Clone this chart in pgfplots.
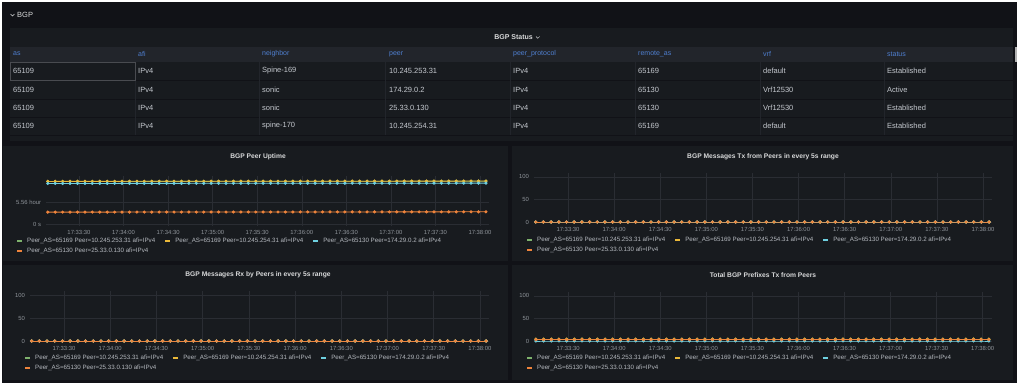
\documentclass[border=0pt]{standalone}
\usepackage{pgfplots}
\pgfplotsset{compat=1.18}
\usepackage{pgfplotstable}
\usepackage{fontspec}
\setmainfont{Liberation Sans}
\definecolor{dashbg}{HTML}{111217}
\definecolor{panelbg}{HTML}{181B1F}
\definecolor{headbg}{HTML}{22252B}
\definecolor{gridc}{HTML}{2A2D33}
\definecolor{titlec}{HTML}{D8D9DA}
\definecolor{tickc}{HTML}{8E9399}
\definecolor{legc}{HTML}{B4B8BE}
\definecolor{headc}{HTML}{4F7FD0}
\definecolor{cellc}{HTML}{C4C8CE}
\definecolor{sgreen}{HTML}{7EB26D}
\definecolor{syellow}{HTML}{EAB839}
\definecolor{sblue}{HTML}{6ED0E0}
\definecolor{sorange}{HTML}{EF843C}

% BGP Peer Uptime (seconds)
\pgfplotstableread{
t g y b o
9 38700 38760 36900 10800
14 38705 38765 36905 10805
19 38710 38770 36910 10810
24 38715 38775 36915 10815
29 38720 38780 36920 10820
34 38725 38785 36925 10825
39 38730 38790 36930 10830
44 38735 38795 36935 10835
49 38740 38800 36940 10840
54 38745 38805 36945 10845
59 38750 38810 36950 10850
64 38755 38815 36955 10855
69 38760 38820 36960 10860
74 38765 38825 36965 10865
79 38770 38830 36970 10870
84 38775 38835 36975 10875
89 38780 38840 36980 10880
94 38785 38845 36985 10885
99 38790 38850 36990 10890
104 38795 38855 36995 10895
109 38800 38860 37000 10900
114 38805 38865 37005 10905
119 38810 38870 37010 10910
124 38815 38875 37015 10915
129 38820 38880 37020 10920
134 38825 38885 37025 10925
139 38830 38890 37030 10930
144 38835 38895 37035 10935
149 38840 38900 37040 10940
154 38845 38905 37045 10945
159 38850 38910 37050 10950
164 38855 38915 37055 10955
169 38860 38920 37060 10960
174 38865 38925 37065 10965
179 38870 38930 37070 10970
184 38875 38935 37075 10975
189 38880 38940 37080 10980
194 38885 38945 37085 10985
199 38890 38950 37090 10990
204 38895 38955 37095 10995
209 38900 38960 37100 11000
214 38905 38965 37105 11005
219 38910 38970 37110 11010
224 38915 38975 37115 11015
229 38920 38980 37120 11020
234 38925 38985 37125 11025
239 38930 38990 37130 11030
244 38935 38995 37135 11035
249 38940 39000 37140 11040
254 38945 39005 37145 11045
259 38950 39010 37150 11050
264 38955 39015 37155 11055
269 38960 39020 37160 11060
274 38965 39025 37165 11065
279 38970 39030 37170 11070
284 38975 39035 37175 11075
289 38980 39040 37180 11080
294 38985 39045 37185 11085
299 38990 39050 37190 11090
304 38995 39055 37195 11095
}\uptime

% BGP messages Tx / Rx in every 5s range
\pgfplotstableread{
t tx rx
9 0 0
14 0 0
19 0 0
24 0 0
29 0 0
34 0 0
39 0 0
44 0 0
49 0 0
54 0 0
59 0 0
64 0 0
69 0 0
74 0 0
79 0 0
84 0 0
89 0 0
94 0 0
99 0 0
104 0 0
109 0 0
114 0 0
119 0 0
124 0 0
129 0 0
134 0 0
139 0 0
144 0 0
149 0 0
154 0 0
159 0 0
164 0 0
169 0 0
174 0 0
179 0 0
184 0 0
189 0 0
194 0 0
199 0 0
204 0 0
209 0 0
214 0 0
219 0 0
224 0 0
229 0 0
234 0 0
239 0 0
244 0 0
249 0 0
254 0 0
259 0 0
264 0 0
269 0 0
274 0 0
279 0 0
284 0 0
289 0 0
294 0 0
299 0 0
304 0 0
}\msgs

% Total BGP prefixes Tx
\pgfplotstableread{
t g y b o
9 4 4 0 3
14 4 4 0 3
19 4 4 0 3
24 4 4 0 3
29 4 4 0 3
34 4 4 0 3
39 4 4 0 3
44 4 4 0 3
49 4 4 0 3
54 4 4 0 3
59 4 4 0 3
64 4 4 0 3
69 4 4 0 3
74 4 4 0 3
79 4 4 0 3
84 4 4 0 3
89 4 4 0 3
94 4 4 0 3
99 4 4 0 3
104 4 4 0 3
109 4 4 0 3
114 4 4 0 3
119 4 4 0 3
124 4 4 0 3
129 4 4 0 3
134 4 4 0 3
139 4 4 0 3
144 4 4 0 3
149 4 4 0 3
154 4 4 0 3
159 4 4 0 3
164 4 4 0 3
169 4 4 0 3
174 4 4 0 3
179 4 4 0 3
184 4 4 0 3
189 4 4 0 3
194 4 4 0 3
199 4 4 0 3
204 4 4 0 3
209 4 4 0 3
214 4 4 0 3
219 4 4 0 3
224 4 4 0 3
229 4 4 0 3
234 4 4 0 3
239 4 4 0 3
244 4 4 0 3
249 4 4 0 3
254 4 4 0 3
259 4 4 0 3
264 4 4 0 3
269 4 4 0 3
274 4 4 0 3
279 4 4 0 3
284 4 4 0 3
289 4 4 0 3
294 4 4 0 3
299 4 4 0 3
304 4 4 0 3
}\prefixes

\newcommand{\legA}{Peer\_AS=65169 Peer=10.245.253.31 afi=IPv4}
\newcommand{\legB}{Peer\_AS=65169 Peer=10.245.254.31 afi=IPv4}
\newcommand{\legC}{Peer\_AS=65130 Peer=174.29.0.2 afi=IPv4}
\newcommand{\legD}{Peer\_AS=65130 Peer=25.33.0.130 afi=IPv4}

\pgfplotsset{
  gpanel/.style={
    scale only axis,
    axis line style={draw=none},
    major tick length=0pt,
    xmin=8, xmax=306,
    xtick={30,60,90,120,150,180,210,240,270,300},
    xticklabels={17:33:30,17:34:00,17:34:30,17:35:00,17:35:30,17:36:00,17:36:30,17:37:00,17:37:30,17:38:00},
    scaled y ticks=false,
    grid=major,
    major grid style={draw=gridc, line width=0.5pt},
    /pgf/number format/assume math mode=true,
    tick label style={font=\fontsize{5.9}{6}\selectfont, text=tickc, inner sep=0pt},
    xticklabel shift=4pt,
    yticklabel shift=5pt,
    clip=false,
    every axis plot/.append style={line width=0.8pt, mark=*, mark size=1.15pt},
    legend columns=3,
    legend cell align=left,
    legend style={draw=none, fill=none, text=legc, font=\fontsize{6.2}{7}\selectfont,
      anchor=north west, at={(0,0)}, inner sep=0pt, row sep=4pt,
      nodes={inner sep=0pt},
      /tikz/every even column/.append style={column sep=9pt},
      /tikz/every odd column/.append style={column sep=4pt}},
    legend image code/.code={\draw[line width=2pt] (0pt,0pt) -- (5pt,0pt);},
  },
  sg/.style={color=sgreen, mark options={fill=sgreen, draw=sgreen}},
  sy/.style={color=syellow, mark options={fill=syellow, draw=syellow}},
  sb/.style={color=sblue, mark options={fill=sblue, draw=sblue}},
  so/.style={color=sorange, mark options={fill=sorange, draw=sorange}},
}

\begin{document}
\begin{tikzpicture}[
  hdr/.style={anchor=west, inner sep=0pt, text=headc, font=\fontsize{7}{8}\selectfont},
  cell/.style={anchor=west, inner sep=0pt, text=cellc, font=\fontsize{7.5}{9}\selectfont},
  ptitle/.style={inner sep=0pt, text=titlec, font=\bfseries\fontsize{6.7}{8}\selectfont}]
% page and dashboard background
\fill[white] (0,0) rectangle (1024pt,-391pt);
\fill[dashbg] (1.5pt,-2pt) rectangle (1017pt,-383pt);
% row header
\draw[titlec, line width=0.6pt] (10.5pt,-14pt) -- (12.5pt,-16pt) -- (14.5pt,-14pt);
\node[anchor=west, inner sep=0pt, text=titlec, font=\fontsize{7.5}{9}\selectfont] at (17pt,-15pt) {BGP};
% table panel
\fill[panelbg] (10pt,-28pt) rectangle (1013pt,-141pt);
\fill[headbg] (10pt,-47pt) rectangle (1013pt,-62pt);
\node[ptitle, font=\bfseries\fontsize{7}{8}\selectfont, anchor=east] at (533pt,-37pt) {BGP Status};
\draw[titlec, line width=0.5pt] (536pt,-36.5pt) -- (537.8pt,-38.3pt) -- (539.6pt,-36.5pt);
\foreach \yy in {80.5,99,117.5,135}
  \draw[dashbg, line width=0.8pt] (10pt,-\yy pt) -- (1013pt,-\yy pt);
\foreach \xx in {135,259,385,510,635,760,884}
  \draw[headbg, line width=0.6pt] (\xx pt,-62pt) -- (\xx pt,-135pt);
\draw[gridc!70!white!60!panelbg, line width=0.5pt] (10.5pt,-62.5pt) rectangle (135pt,-80.5pt);
\fill[gray!60] (1014.5pt,-47pt) rectangle (1016.5pt,-62pt);
\foreach \xx/\tt in {13/as,138/afi,262/neighbor,389/peer,513/peer\_protocol,638/remote\_as,763/vrf,887/status}
  \node[hdr] at (\xx pt,-54pt) {\tt};
\foreach \yy/\ca/\cb/\cc/\cd/\ce/\cf/\cg/\ch in {
  71/65109/IPv4/Spine-169/10.245.253.31/IPv4/65169/default/Established,
  89.5/65109/IPv4/sonic/174.29.0.2/IPv4/65130/Vrf12530/Active,
  108/65109/IPv4/sonic/25.33.0.130/IPv4/65130/Vrf12530/Established,
  126/65109/IPv4/spine-170/10.245.254.31/IPv4/65169/default/Established}{
  \node[cell] at (13pt,-\yy pt) {\ca};
  \node[cell] at (138pt,-\yy pt) {\cb};
  \node[cell] at (262pt,-\yy pt) {\cc};
  \node[cell] at (389pt,-\yy pt) {\cd};
  \node[cell] at (513pt,-\yy pt) {\ce};
  \node[cell] at (638pt,-\yy pt) {\cf};
  \node[cell] at (763pt,-\yy pt) {\cg};
  \node[cell] at (887pt,-\yy pt) {\ch};
}
% chart panels
\fill[panelbg] (3pt,-146pt) rectangle (508pt,-261pt);
\fill[panelbg] (512pt,-146pt) rectangle (1013pt,-261pt);
\fill[panelbg] (3pt,-265pt) rectangle (508pt,-380pt);
\fill[panelbg] (512pt,-265pt) rectangle (1013pt,-380pt);
\node[ptitle] at (258pt,-157pt) {BGP Peer Uptime};
\node[ptitle] at (763pt,-157pt) {BGP Messages Tx from Peers in every 5s range};
\node[ptitle] at (258pt,-275pt) {BGP Messages Rx by Peers in every 5s range};
\node[ptitle] at (763pt,-275pt) {Total BGP Prefixes Tx from Peers};

% Panel 1: BGP Peer Uptime
\begin{axis}[gpanel, at={(46.3pt,-226pt)}, anchor=south west, width=442.6pt, height=50pt,
  ymin=-1800, ymax=43671, ytick={0,20016}, yticklabels={0 s,5.56 hour},
  legend style={xshift=-30.3pt, yshift=-12pt}]
\addplot[sg] table[x=t,y=g]{\uptime}; \addlegendentry{\legA}
\addplot[sy] table[x=t,y=y]{\uptime}; \addlegendentry{\legB}
\addplot[sb] table[x=t,y=b]{\uptime}; \addlegendentry{\legC}
\addplot[so] table[x=t,y=o]{\uptime}; \addlegendentry{\legD}
\end{axis}

% Panel 2: Tx
\begin{axis}[gpanel, at={(534.2pt,-223.35pt)}, anchor=south west, width=458pt, height=50pt,
  ymin=-3, ymax=108, ytick={0,50,100},
  legend style={xshift=-8.2pt, yshift=-13.6pt}]
\addplot[sg] table[x=t,y=tx]{\msgs}; \addlegendentry{\legA}
\addplot[sy] table[x=t,y=tx]{\msgs}; \addlegendentry{\legB}
\addplot[sb] table[x=t,y=tx]{\msgs}; \addlegendentry{\legC}
\addplot[so] table[x=t,y=tx]{\msgs}; \addlegendentry{\legD}
\end{axis}

% Panel 3: Rx
\begin{axis}[gpanel, at={(30.1pt,-342.4pt)}, anchor=south west, width=459.1pt, height=51pt,
  ymin=-3, ymax=108, ytick={0,50,100},
  legend style={xshift=-6.1pt, yshift=-12.6pt}]
\addplot[sg] table[x=t,y=rx]{\msgs}; \addlegendentry{\legA}
\addplot[sy] table[x=t,y=rx]{\msgs}; \addlegendentry{\legB}
\addplot[sb] table[x=t,y=rx]{\msgs}; \addlegendentry{\legC}
\addplot[so] table[x=t,y=rx]{\msgs}; \addlegendentry{\legD}
\end{axis}

% Panel 4: Prefixes
\begin{axis}[gpanel, at={(534.4pt,-342.35pt)}, anchor=south west, width=457.5pt, height=50pt,
  ymin=-3, ymax=108, ytick={0,50,100},
  legend style={xshift=-8.4pt, yshift=-12.6pt}]
\addplot[sg] table[x=t,y=g]{\prefixes}; \addlegendentry{\legA}
\addplot[sy] table[x=t,y=y]{\prefixes}; \addlegendentry{\legB}
\addplot[sb] table[x=t,y=b]{\prefixes}; \addlegendentry{\legC}
\addplot[so] table[x=t,y=o]{\prefixes}; \addlegendentry{\legD}
\end{axis}

\pgfresetboundingbox
\useasboundingbox (0,0) rectangle (1024pt,-391pt);
\end{tikzpicture}
\end{document}
